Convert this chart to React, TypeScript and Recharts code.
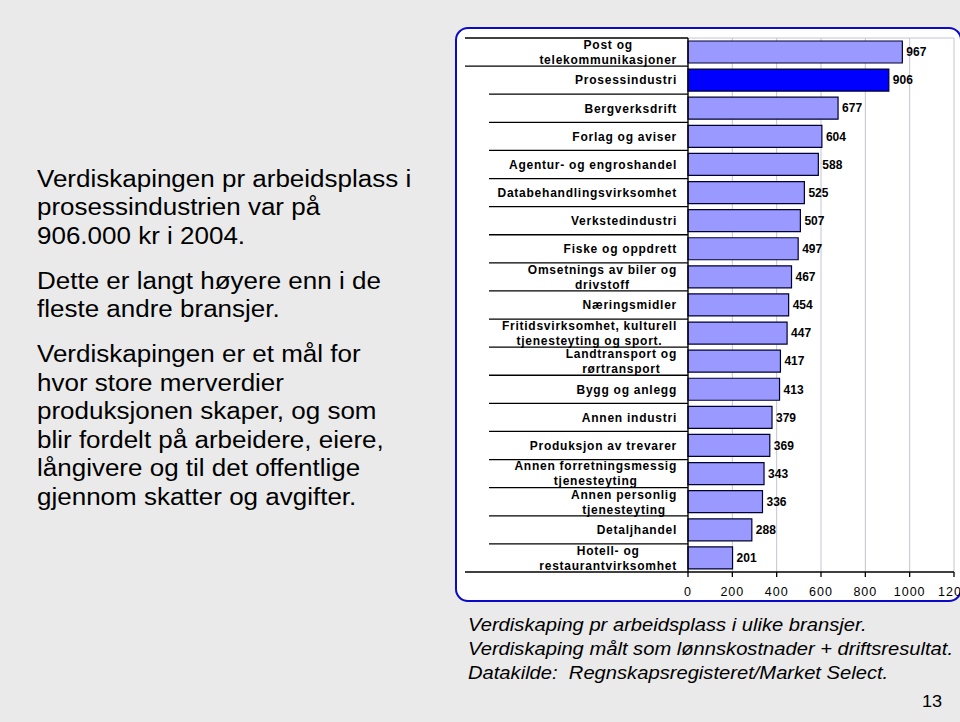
import { BarChart, Bar, XAxis, YAxis, CartesianGrid, Cell, LabelList } from "recharts";

// "|" marks a line break in the category label
const categories = [
  "Post og|telekommunikasjoner",
  "Prosessindustri",
  "Bergverksdrift",
  "Forlag og aviser",
  "Agentur- og engroshandel",
  "Databehandlingsvirksomhet",
  "Verkstedindustri",
  "Fiske og oppdrett",
  "Omsetnings av biler og|drivstoff",
  "Næringsmidler",
  "Fritidsvirksomhet, kulturell|tjenesteyting og sport.",
  "Landtransport og|rørtransport",
  "Bygg og anlegg",
  "Annen industri",
  "Produksjon av trevarer",
  "Annen forretningsmessig|tjenesteyting",
  "Annen personlig|tjenesteyting",
  "Detaljhandel",
  "Hotell- og|restaurantvirksomhet",
];
const values = [967, 906, 677, 604, 588, 525, 507, 497, 467, 454, 447, 417, 413, 379, 369, 343, 336, 288, 201];
const highlighted = "Prosessindustri";
const xTicks = [0, 200, 400, 600, 800, 1000, 1200];

const introParagraphs = [
  ["Verdiskapingen pr arbeidsplass i", "prosessindustrien var på", "906.000 kr i 2004."],
  ["Dette er langt høyere enn i de", "fleste andre bransjer."],
  [
    "Verdiskapingen er et mål for",
    "hvor store merverdier",
    "produksjonen skaper, og som",
    "blir fordelt på arbeidere, eiere,",
    "långivere og til det offentlige",
    "gjennom skatter og avgifter.",
  ],
];
const captionLines = [
  "Verdiskaping pr arbeidsplass i ulike bransjer.",
  "Verdiskaping målt som lønnskostnader + driftsresultat.",
  "Datakilde:  Regnskapsregisteret/Market Select.",
];

const data = categories.map((name, i) => ({ name, value: values[i] }));

const FONT = "'Liberation Sans', Arial, sans-serif";
const LABEL_SIZE = 12;
const LABEL_LS = 0.75;

let ctx: CanvasRenderingContext2D | null = null;
const measure = (s: string) => {
  if (!ctx) ctx = document.createElement("canvas").getContext("2d");
  if (!ctx) return s.length * 7.5;
  ctx.font = `bold ${LABEL_SIZE}px ${FONT}`;
  return ctx.measureText(s).width + s.length * LABEL_LS;
};

const CategoryTick = (props: any) => {
  const { x, y, payload, index, height, visibleTicksCount } = props;
  const band =
    height && visibleTicksCount ? height / visibleTicksCount : payload?.offset ? payload.offset * 2 : 28;
  const lines = String(payload.value).split("|");
  const right = x - 11;
  const top = y - band / 2;
  const lh = 15;
  const startY = y - ((lines.length - 1) * lh) / 2;
  let ax = right;
  let anchor = "end";
  if (lines.length > 1) {
    const w = Math.max(...lines.map(measure));
    ax = right - w / 2;
    anchor = "middle";
  }
  const isLast = index === visibleTicksCount - 1;
  return (
    <g>
      <line x1={x - (index <= 1 ? 223 : 199)} x2={x} y1={top} y2={top} stroke="#000" strokeWidth={1.3} />
      {isLast && <line x1={x - 223} x2={x} y1={y + band / 2} y2={y + band / 2} stroke="#000" strokeWidth={1.3} />}
      <text
        textAnchor={anchor}
        fontFamily={FONT}
        fontSize={LABEL_SIZE}
        fontWeight="bold"
        letterSpacing={LABEL_LS}
        fill="#000"
      >
        {lines.map((l, i) => (
          <tspan key={i} x={ax} y={startY + i * lh} dy="0.36em">
            {l}
          </tspan>
        ))}
      </text>
    </g>
  );
};

const ValueTick = (props: any) => {
  const { x, y, payload } = props;
  return (
    <text x={x} y={y} dy="0.71em" textAnchor="middle" fontFamily={FONT} fontSize={12.5} letterSpacing={1} fill="#000">
      {payload.value}
    </text>
  );
};

const textBase = { fontFamily: FONT, color: "#000", whiteSpace: "nowrap" as const, transformOrigin: "left top" };

export default function App() {
  return (
    <div
      style={{
        position: "fixed",
        left: 0,
        top: 0,
        width: 960,
        height: 722,
        overflow: "hidden",
        background: "#eaeaea",
      }}
    >
      <div
        style={{
          ...textBase,
          position: "absolute",
          left: 37,
          top: 164.8,
          fontSize: 23,
          lineHeight: "28.5px",
          transform: "scaleX(1.13)",
        }}
      >
        {introParagraphs.map((p, i) => (
          <div key={i} style={{ marginTop: i === 0 ? 0 : 16.5 }}>
            {p.map((l, j) => (
              <div key={j}>{l}</div>
            ))}
          </div>
        ))}
      </div>

      <div
        style={{
          position: "absolute",
          left: 455,
          top: 27,
          width: 507,
          height: 575,
          boxSizing: "border-box",
          border: "2px solid #0a0ac8",
          borderRadius: 13,
          background: "#fff",
        }}
      />

      <div style={{ position: "absolute", left: 0, top: 0 }}>
        <BarChart
          width={1000}
          height={722}
          data={data}
          layout="vertical"
          margin={{ top: 38, right: 46, bottom: 120, left: 465 }}
          barSize={22}
        >
          <CartesianGrid
            stroke="#c4c4d4"
            vertical={true}
            horizontal={true}
            horizontalCoordinatesGenerator={({ offset }: any) => [offset.top]}
          />
          <XAxis
            type="number"
            domain={[0, 1200]}
            ticks={xTicks}
            height={30}
            axisLine={{ stroke: "#000", strokeWidth: 1.3 }}
            tickLine={{ stroke: "#000", strokeWidth: 1.3 }}
            tickSize={5}
            tickMargin={10}
            tick={<ValueTick />}
            interval={0}
          />
          <YAxis
            type="category"
            dataKey="name"
            width={223}
            interval={0}
            tickLine={false}
            tickSize={0}
            tickMargin={0}
            axisLine={{ stroke: "#000", strokeWidth: 1.3 }}
            tick={<CategoryTick />}
          />
          <Bar dataKey="value" fill="#9999ff" stroke="#000033" strokeWidth={1.2} isAnimationActive={false}>
            {data.map((d) => (
              <Cell key={d.name} fill={d.name === highlighted ? "#0000ff" : "#9999ff"} />
            ))}
            <LabelList
              dataKey="value"
              position="right"
              offset={4}
              fill="#000"
              fontSize={12}
              fontWeight="bold"
              fontFamily={FONT}
            />
          </Bar>
        </BarChart>
      </div>

      <div
        style={{
          ...textBase,
          position: "absolute",
          left: 468,
          top: 612.5,
          fontSize: 18,
          fontStyle: "italic",
          lineHeight: "24px",
          transform: "scaleX(1.12)",
        }}
      >
        {captionLines.map((l, i) => (
          <div key={i} style={{ whiteSpace: "pre" }}>
            {l}
          </div>
        ))}
      </div>

      <div
        style={{
          ...textBase,
          position: "absolute",
          left: 921.7,
          top: 691,
          fontSize: 16.5,
          lineHeight: "20px",
          transform: "scaleX(1.1)",
        }}
      >
        13
      </div>
    </div>
  );
}
